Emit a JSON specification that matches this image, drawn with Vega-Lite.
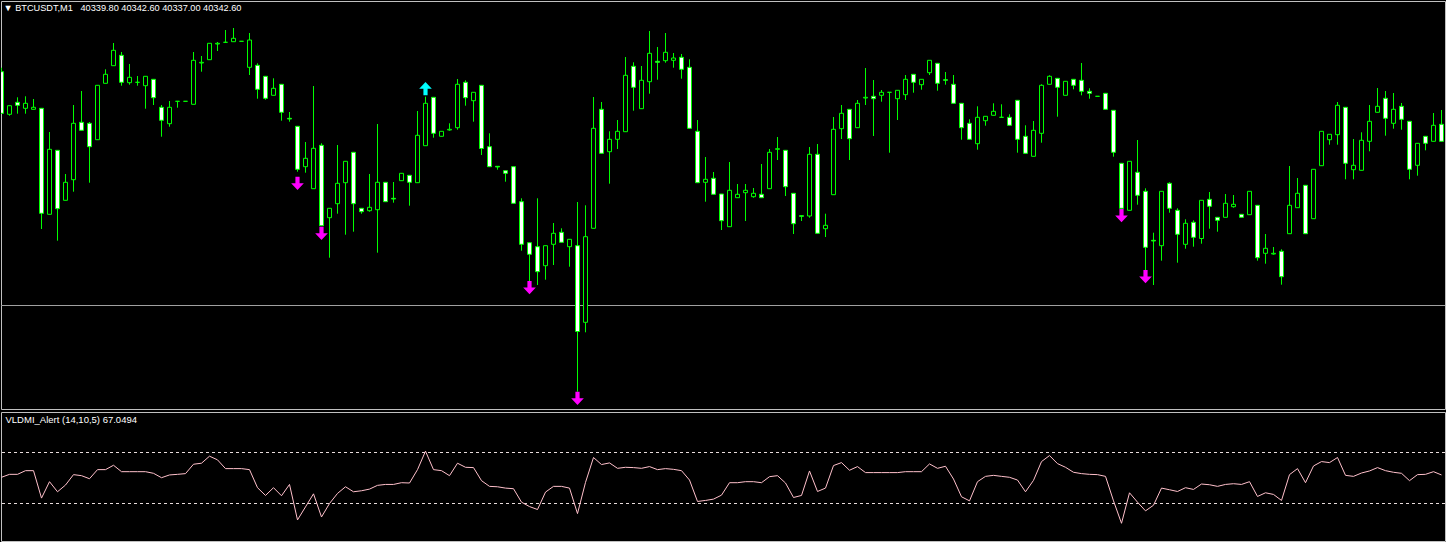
{
"$schema": "https://vega.github.io/schema/vega-lite/v6.json",
"background": "black",
"padding": 0,
"spacing": 3,
"bounds": "flush",
"config": {"view": {"stroke": "#c0c0c0", "strokeWidth": 1}, "title": {"font": "Liberation Sans", "fontSize": 9.5, "fontWeight": "normal", "color": "white", "anchor": "start", "offset": -12, "dx": 3}},
"datasets": {
"candles": [
{"i":0,"o":40408.3,"h":40412.3,"l":40366.3,"c":40366.7},
{"i":1,"o":40365.7,"h":40374.3,"l":40364.3,"c":40374.3},
{"i":2,"o":40377.7,"h":40382.7,"l":40366.3,"c":40374.7},
{"i":3,"o":40371.7,"h":40383.7,"l":40366.3,"c":40376.7},
{"i":4,"o":40370.7,"h":40381,"l":40370.7,"c":40372.7},
{"i":5,"o":40371.7,"h":40371.7,"l":40251,"c":40266.7},
{"i":6,"o":40265.7,"h":40348,"l":40265.7,"c":40330.7},
{"i":7,"o":40329.7,"h":40329.7,"l":40239.3,"c":40271.3},
{"i":8,"o":40279.7,"h":40306,"l":40279.7,"c":40297.7},
{"i":9,"o":40300.3,"h":40375,"l":40288.3,"c":40356.7},
{"i":10,"o":40357.7,"h":40389,"l":40349.7,"c":40349.7},
{"i":11,"o":40356.7,"h":40358,"l":40297.3,"c":40333.3},
{"i":12,"o":40340.3,"h":40394.7,"l":40340.3,"c":40394.7},
{"i":13,"o":40396.7,"h":40410.7,"l":40396.7,"c":40405.7},
{"i":14,"o":40414.3,"h":40437,"l":40414.3,"c":40429.7},
{"i":15,"o":40424.7,"h":40428,"l":40394.3,"c":40397.7},
{"i":16,"o":40397.3,"h":40416,"l":40395.3,"c":40402.7},
{"i":17,"o":40397.7,"h":40404,"l":40394.3,"c":40397.7},
{"i":18,"o":40394.3,"h":40403.7,"l":40371.3,"c":40403.7},
{"i":19,"o":40400.7,"h":40400.7,"l":40375,"c":40382.3},
{"i":20,"o":40372.7,"h":40375,"l":40343.3,"c":40359.7},
{"i":21,"o":40356.3,"h":40379,"l":40353.3,"c":40372.7},
{"i":22,"o":40378.7,"h":40378.7,"l":40372.3,"c":40378.7},
{"i":23,"o":40378.7,"h":40378.7,"l":40378.7,"c":40378.7},
{"i":24,"o":40375.7,"h":40428,"l":40375.7,"c":40419.7},
{"i":25,"o":40417,"h":40424,"l":40408.3,"c":40417.7},
{"i":26,"o":40420.3,"h":40436.7,"l":40420.3,"c":40436.7},
{"i":27,"o":40436,"h":40438,"l":40429,"c":40436.7},
{"i":28,"o":40437.7,"h":40450,"l":40437.7,"c":40437.7},
{"i":29,"o":40438.3,"h":40452,"l":40438.3,"c":40441.7},
{"i":30,"o":40438.7,"h":40438.7,"l":40438.7,"c":40438.7},
{"i":31,"o":40412.7,"h":40447,"l":40405,"c":40440},
{"i":32,"o":40414.7,"h":40416.7,"l":40381.3,"c":40390.7},
{"i":33,"o":40403.7,"h":40403.7,"l":40380.3,"c":40381.7},
{"i":34,"o":40384.7,"h":40401.7,"l":40384.7,"c":40391.7},
{"i":35,"o":40395.7,"h":40395.7,"l":40359.3,"c":40367.7},
{"i":36,"o":40361.7,"h":40368,"l":40358.3,"c":40361},
{"i":37,"o":40353.7,"h":40353.7,"l":40308.3,"c":40310.7},
{"i":38,"o":40313.3,"h":40338,"l":40307.3,"c":40321.7},
{"i":39,"o":40291.3,"h":40394,"l":40291.3,"c":40331.7},
{"i":40,"o":40334.7,"h":40336.7,"l":40254.3,"c":40254.3},
{"i":41,"o":40262.3,"h":40271.7,"l":40222.3,"c":40271.7},
{"i":42,"o":40276.3,"h":40335,"l":40266.3,"c":40296.7},
{"i":43,"o":40297.3,"h":40318.7,"l":40245.3,"c":40318.7},
{"i":44,"o":40327.7,"h":40327.7,"l":40248.3,"c":40276.3},
{"i":45,"o":40271.7,"h":40271.7,"l":40266.3,"c":40268.3},
{"i":46,"o":40269.3,"h":40306,"l":40268.3,"c":40272.7},
{"i":47,"o":40270.3,"h":40356,"l":40227.3,"c":40297.7},
{"i":48,"o":40297.7,"h":40297.7,"l":40278.3,"c":40278.3},
{"i":49,"o":40281.7,"h":40298,"l":40277.3,"c":40281},
{"i":50,"o":40299.3,"h":40306.7,"l":40299.3,"c":40306.7},
{"i":51,"o":40304.7,"h":40304.7,"l":40274.3,"c":40297.7},
{"i":52,"o":40297.3,"h":40369,"l":40297.3,"c":40344.7},
{"i":53,"o":40334.3,"h":40383.3,"l":40334.3,"c":40376.7},
{"i":54,"o":40382.7,"h":40382.7,"l":40342.3,"c":40346.7},
{"i":55,"o":40343.7,"h":40348.7,"l":40343.7,"c":40348.7},
{"i":56,"o":40350,"h":40356.7,"l":40349.3,"c":40350.7},
{"i":57,"o":40352.3,"h":40401,"l":40350.3,"c":40395.7},
{"i":58,"o":40397.7,"h":40399.7,"l":40374.3,"c":40382.3},
{"i":59,"o":40379.3,"h":40387.7,"l":40358.3,"c":40387.7},
{"i":60,"o":40394.7,"h":40394.7,"l":40325,"c":40331.5},
{"i":61,"o":40333.3,"h":40346.7,"l":40313.3,"c":40313.3},
{"i":62,"o":40313.7,"h":40313.7,"l":40310.3,"c":40313},
{"i":63,"o":40309.3,"h":40309.3,"l":40298.3,"c":40306.7},
{"i":64,"o":40313.3,"h":40313.3,"l":40276.7,"c":40276.7},
{"i":65,"o":40278.3,"h":40281.7,"l":40229.3,"c":40235.7},
{"i":66,"o":40237.3,"h":40237.3,"l":40198.3,"c":40225.7},
{"i":67,"o":40233.3,"h":40281.7,"l":40195,"c":40208.3},
{"i":68,"o":40214.3,"h":40234.3,"l":40200.3,"c":40234.3},
{"i":69,"o":40235.7,"h":40257,"l":40215,"c":40246.7},
{"i":70,"o":40247.7,"h":40251.7,"l":40237.7,"c":40237.7},
{"i":71,"o":40233.3,"h":40240.7,"l":40213.3,"c":40240.7},
{"i":72,"o":40234.3,"h":40278,"l":40088.3,"c":40148.5},
{"i":73,"o":40157.7,"h":40274.7,"l":40147.7,"c":40243.3},
{"i":74,"o":40251.7,"h":40383,"l":40251.7,"c":40351.7},
{"i":75,"o":40370.7,"h":40378,"l":40326.7,"c":40326.7},
{"i":76,"o":40328.3,"h":40348.7,"l":40296.3,"c":40340.7},
{"i":77,"o":40340.7,"h":40360,"l":40331,"c":40348.7},
{"i":78,"o":40348.3,"h":40423,"l":40348.3,"c":40404.7},
{"i":79,"o":40413.7,"h":40417.7,"l":40369.3,"c":40392.7},
{"i":80,"o":40371.3,"h":40414,"l":40371.3,"c":40399.7},
{"i":81,"o":40398.3,"h":40449,"l":40386.3,"c":40426.7},
{"i":82,"o":40418.7,"h":40433,"l":40400.3,"c":40417.7},
{"i":83,"o":40419.3,"h":40447,"l":40417.3,"c":40427.7},
{"i":84,"o":40419.7,"h":40427,"l":40412.3,"c":40422},
{"i":85,"o":40422.7,"h":40426,"l":40401.3,"c":40410.7},
{"i":86,"o":40412.7,"h":40420.7,"l":40351.7,"c":40351.7},
{"i":87,"o":40348.7,"h":40360,"l":40297.3,"c":40297.3},
{"i":88,"o":40297.7,"h":40323,"l":40278.3,"c":40300.7},
{"i":89,"o":40301.7,"h":40308,"l":40285.7,"c":40285.7},
{"i":90,"o":40286,"h":40286,"l":40250,"c":40259.3},
{"i":91,"o":40253.3,"h":40318,"l":40253.3,"c":40289.7},
{"i":92,"o":40282.3,"h":40296,"l":40282.3,"c":40285.7},
{"i":93,"o":40287.3,"h":40296,"l":40259,"c":40289.7},
{"i":94,"o":40283.3,"h":40292,"l":40282.3,"c":40286.7},
{"i":95,"o":40285.7,"h":40316,"l":40282.3,"c":40282.3},
{"i":96,"o":40291.3,"h":40331,"l":40291.3,"c":40327.7},
{"i":97,"o":40330.7,"h":40343,"l":40320,"c":40331.3},
{"i":98,"o":40329.7,"h":40329.7,"l":40284,"c":40293.3},
{"i":99,"o":40286.7,"h":40286.7,"l":40246,"c":40256.3},
{"i":100,"o":40264.3,"h":40264.3,"l":40259,"c":40263.7},
{"i":101,"o":40264,"h":40333,"l":40262.3,"c":40325.7},
{"i":102,"o":40325.7,"h":40336,"l":40246.7,"c":40246.7},
{"i":103,"o":40251.3,"h":40266.3,"l":40243,"c":40254.7},
{"i":104,"o":40285.3,"h":40363,"l":40285.3,"c":40350.7},
{"i":105,"o":40351.3,"h":40375,"l":40341,"c":40366.7},
{"i":106,"o":40370.7,"h":40370.7,"l":40320,"c":40341.3},
{"i":107,"o":40352.3,"h":40380,"l":40352.3,"c":40376.7},
{"i":108,"o":40382,"h":40412,"l":40375,"c":40382.7},
{"i":109,"o":40383.7,"h":40400,"l":40344,"c":40381.3},
{"i":110,"o":40384.7,"h":40390,"l":40378.3,"c":40387.7},
{"i":111,"o":40387.7,"h":40387.7,"l":40327.3,"c":40387.7},
{"i":112,"o":40381.3,"h":40389.7,"l":40360,"c":40389.7},
{"i":113,"o":40385.3,"h":40405,"l":40380,"c":40400.7},
{"i":114,"o":40405.7,"h":40405.7,"l":40387.3,"c":40397.7},
{"i":115,"o":40395.3,"h":40400.7,"l":40390.3,"c":40400.7},
{"i":116,"o":40407.3,"h":40419.7,"l":40405,"c":40419.7},
{"i":117,"o":40416.7,"h":40416.7,"l":40389.3,"c":40396.7},
{"i":118,"o":40400.3,"h":40408,"l":40395.3,"c":40399.7},
{"i":119,"o":40395.7,"h":40405,"l":40376.7,"c":40376.7},
{"i":120,"o":40376.7,"h":40376.7,"l":40340.3,"c":40352.3},
{"i":121,"o":40356.7,"h":40360.7,"l":40340.7,"c":40340.7},
{"i":122,"o":40336.3,"h":40373.7,"l":40330.3,"c":40362.7},
{"i":123,"o":40359.3,"h":40363.7,"l":40354.3,"c":40363.7},
{"i":124,"o":40364.7,"h":40376.7,"l":40364.7,"c":40368.7},
{"i":125,"o":40362.7,"h":40375.7,"l":40362.7,"c":40362.7},
{"i":126,"o":40362.7,"h":40365.7,"l":40354.7,"c":40354.7},
{"i":127,"o":40379.7,"h":40379.7,"l":40327.3,"c":40340.7},
{"i":128,"o":40343.7,"h":40354.7,"l":40326.7,"c":40326.7},
{"i":129,"o":40323.7,"h":40359,"l":40323.7,"c":40349.7},
{"i":130,"o":40346.7,"h":40395.7,"l":40337.3,"c":40394.7},
{"i":131,"o":40395.7,"h":40404.7,"l":40395.7,"c":40403.7},
{"i":132,"o":40401.7,"h":40401.7,"l":40363.3,"c":40392.7},
{"i":133,"o":40384.7,"h":40398.7,"l":40384.7,"c":40398.7},
{"i":134,"o":40400.7,"h":40400.7,"l":40390.7,"c":40394.7},
{"i":135,"o":40399.7,"h":40417,"l":40384.7,"c":40388.7},
{"i":136,"o":40388.7,"h":40391.7,"l":40381.3,"c":40386.7},
{"i":137,"o":40383.7,"h":40383.7,"l":40383.7,"c":40383.7},
{"i":138,"o":40386.7,"h":40386.7,"l":40370.7,"c":40370.7},
{"i":139,"o":40369.7,"h":40369.7,"l":40323.3,"c":40327.7},
{"i":140,"o":40316.7,"h":40316.7,"l":40271.7,"c":40271.7},
{"i":141,"o":40269.7,"h":40318.7,"l":40269.7,"c":40318.7},
{"i":142,"o":40307.7,"h":40340,"l":40275.3,"c":40284.7},
{"i":143,"o":40288.7,"h":40291.7,"l":40210,"c":40232.7},
{"i":144,"o":40239.7,"h":40247.3,"l":40195,"c":40239},
{"i":145,"o":40234.3,"h":40288.7,"l":40219.3,"c":40288.7},
{"i":146,"o":40296.7,"h":40297.7,"l":40267.3,"c":40271.7},
{"i":147,"o":40269.7,"h":40271.7,"l":40217.3,"c":40245.7},
{"i":148,"o":40235.7,"h":40260.7,"l":40231.3,"c":40256.7},
{"i":149,"o":40257.7,"h":40259.7,"l":40233.3,"c":40242.7},
{"i":150,"o":40241.5,"h":40279.7,"l":40236.3,"c":40279.7},
{"i":151,"o":40280.7,"h":40288,"l":40251.3,"c":40273.7},
{"i":152,"o":40262.7,"h":40262.7,"l":40248.3,"c":40259.7},
{"i":153,"o":40262.7,"h":40286,"l":40262.7,"c":40276.7},
{"i":154,"o":40273.3,"h":40285,"l":40272.3,"c":40275.7},
{"i":155,"o":40265.7,"h":40265.7,"l":40262.7,"c":40262.7},
{"i":156,"o":40265.3,"h":40288.7,"l":40265.3,"c":40288.7},
{"i":157,"o":40274.7,"h":40274.7,"l":40219.3,"c":40222.3},
{"i":158,"o":40226.7,"h":40246,"l":40216.3,"c":40231.7},
{"i":159,"o":40226,"h":40233,"l":40225.3,"c":40226.7},
{"i":160,"o":40228.7,"h":40230.7,"l":40195.3,"c":40203.3},
{"i":161,"o":40246.3,"h":40314,"l":40246.3,"c":40274.7},
{"i":162,"o":40272.3,"h":40302,"l":40272.3,"c":40286.7},
{"i":163,"o":40294.7,"h":40294.7,"l":40246.3,"c":40246.3},
{"i":164,"o":40261.3,"h":40310.7,"l":40261.3,"c":40310.7},
{"i":165,"o":40314.3,"h":40348.7,"l":40314.3,"c":40348.7},
{"i":166,"o":40340.3,"h":40345.7,"l":40335.3,"c":40345.7},
{"i":167,"o":40345.3,"h":40378,"l":40335.3,"c":40374.7},
{"i":168,"o":40372.7,"h":40372.7,"l":40300.7,"c":40316.7},
{"i":169,"o":40310.3,"h":40341,"l":40300.7,"c":40314.7},
{"i":170,"o":40309.7,"h":40347.7,"l":40309.7,"c":40339.7},
{"i":171,"o":40338.7,"h":40375,"l":40328.7,"c":40358.7},
{"i":172,"o":40367.7,"h":40392,"l":40367.7,"c":40373.7},
{"i":173,"o":40381.7,"h":40389,"l":40344.3,"c":40361.7},
{"i":174,"o":40356.7,"h":40387,"l":40351.3,"c":40370.7},
{"i":175,"o":40373.7,"h":40377,"l":40350.3,"c":40360.7},
{"i":176,"o":40358.7,"h":40358.7,"l":40300.7,"c":40310.7},
{"i":177,"o":40314.7,"h":40336.7,"l":40304.3,"c":40336.7},
{"i":178,"o":40343.7,"h":40343.7,"l":40329.7,"c":40336.7},
{"i":179,"o":40338.7,"h":40367,"l":40338.7,"c":40354.7},
{"i":180,"o":40355.7,"h":40370,"l":40338.7,"c":40338.7}
],
"arrows": [
{"i":37,"p":40296.1,"dir":"down"},
{"i":40,"p":40246.1,"dir":"down"},
{"i":53,"p":40392,"dir":"up"},
{"i":66,"p":40191.8,"dir":"down"},
{"i":72,"p":40081.1,"dir":"down"},
{"i":140,"p":40263.8,"dir":"down"},
{"i":143,"p":40202.8,"dir":"down"}
],
"hline": [{"p": 40174.5}],
"levels": [{"v": 75}, {"v": 25}],
"ind": [
{"i":0,"v":50.7},{"i":1,"v":53.6},{"i":2,"v":53.6},{"i":3,"v":57.2},{"i":4,"v":57.2},{"i":5,"v":30.3},{"i":6,"v":46.4},{"i":7,"v":36.5},{"i":8,"v":43.1},{"i":9,"v":53.3},
{"i":10,"v":52.3},{"i":11,"v":49.3},{"i":12,"v":58.2},{"i":13,"v":58.2},{"i":14,"v":62.5},{"i":15,"v":56.2},{"i":16,"v":56.2},{"i":17,"v":56.2},{"i":18,"v":56.2},{"i":19,"v":54.6},
{"i":20,"v":50.3},{"i":21,"v":53.0},{"i":22,"v":53.6},{"i":23,"v":54.3},{"i":24,"v":63.5},{"i":25,"v":64.5},{"i":26,"v":71.4},{"i":27,"v":67.8},{"i":28,"v":59.2},{"i":29,"v":59.2},
{"i":30,"v":59.2},{"i":31,"v":58.2},{"i":32,"v":40.5},{"i":33,"v":32.9},{"i":34,"v":40.5},{"i":35,"v":32.6},{"i":36,"v":43.7},{"i":37,"v":8.9},{"i":38,"v":21.7},{"i":39,"v":34.5},
{"i":40,"v":11.8},{"i":41,"v":25.0},{"i":42,"v":34.9},{"i":43,"v":41.4},{"i":44,"v":36.5},{"i":45,"v":37.5},{"i":46,"v":39.1},{"i":47,"v":42.8},{"i":48,"v":43.7},{"i":49,"v":43.7},
{"i":50,"v":45.4},{"i":51,"v":45.1},{"i":52,"v":58.2},{"i":53,"v":76.3},{"i":54,"v":58.2},{"i":55,"v":57.2},{"i":56,"v":52.3},{"i":57,"v":64.5},{"i":58,"v":60.5},{"i":59,"v":60.2},
{"i":60,"v":47.4},{"i":61,"v":41.8},{"i":62,"v":41.4},{"i":63,"v":40.1},{"i":64,"v":39.5},{"i":65,"v":26.3},{"i":66,"v":22.0},{"i":67,"v":19.1},{"i":68,"v":36.2},{"i":69,"v":41.8},
{"i":70,"v":41.8},{"i":71,"v":40.1},{"i":72,"v":15.1},{"i":73,"v":45.7},{"i":74,"v":70.1},{"i":75,"v":63.2},{"i":76,"v":64.8},{"i":77,"v":59.5},{"i":78,"v":60.5},{"i":79,"v":60.2},
{"i":80,"v":59.5},{"i":81,"v":61.2},{"i":82,"v":58.2},{"i":83,"v":59.2},{"i":84,"v":58.5},{"i":85,"v":57.2},{"i":86,"v":48.0},{"i":87,"v":27.0},{"i":88,"v":28.0},{"i":89,"v":29.3},
{"i":90,"v":33.2},{"i":91,"v":45.4},{"i":92,"v":45.4},{"i":93,"v":46.4},{"i":94,"v":46.4},{"i":95,"v":45.4},{"i":96,"v":51.3},{"i":97,"v":52.3},{"i":98,"v":45.1},{"i":99,"v":30.9},
{"i":100,"v":32.9},{"i":101,"v":56.9},{"i":102,"v":36.8},{"i":103,"v":40.1},{"i":104,"v":62.2},{"i":105,"v":65.1},{"i":106,"v":57.6},{"i":107,"v":61.2},{"i":108,"v":55.3},{"i":109,"v":55.3},
{"i":110,"v":55.3},{"i":111,"v":55.3},{"i":112,"v":55.3},{"i":113,"v":56.2},{"i":114,"v":56.2},{"i":115,"v":56.2},{"i":116,"v":63.8},{"i":117,"v":59.5},{"i":118,"v":61.5},{"i":119,"v":49.0},
{"i":120,"v":31.6},{"i":121,"v":27.6},{"i":122,"v":46.4},{"i":123,"v":51.6},{"i":124,"v":52.6},{"i":125,"v":51.6},{"i":126,"v":50.7},{"i":127,"v":48.0},{"i":128,"v":36.5},{"i":129,"v":47.7},
{"i":130,"v":66.1},{"i":131,"v":72.0},{"i":132,"v":64.1},{"i":133,"v":60.5},{"i":134,"v":55.6},{"i":135,"v":54.3},{"i":136,"v":53.6},{"i":137,"v":53.3},{"i":138,"v":51.6},{"i":139,"v":27.6},
{"i":140,"v":5.6},{"i":141,"v":35.5},{"i":142,"v":26.3},{"i":143,"v":17.8},{"i":144,"v":23.3},{"i":145,"v":40.1},{"i":146,"v":38.5},{"i":147,"v":36.8},{"i":148,"v":40.5},{"i":149,"v":38.8},
{"i":150,"v":44.1},{"i":151,"v":43.4},{"i":152,"v":41.8},{"i":153,"v":43.7},{"i":154,"v":44.4},{"i":155,"v":43.7},{"i":156,"v":46.4},{"i":157,"v":31.9},{"i":158,"v":35.5},{"i":159,"v":33.9},
{"i":160,"v":28.0},{"i":161,"v":53.3},{"i":162,"v":59.2},{"i":163,"v":45.4},{"i":164,"v":61.8},{"i":165,"v":66.1},{"i":166,"v":65.1},{"i":167,"v":70.1},{"i":168,"v":52.6},{"i":169,"v":51.6},
{"i":170,"v":54.9},{"i":171,"v":56.9},{"i":172,"v":60.2},{"i":173,"v":57.2},{"i":174,"v":55.6},{"i":175,"v":54.6},{"i":176,"v":47.4},{"i":177,"v":53.3},{"i":178,"v":53.6},{"i":179,"v":56.2},
{"i":180,"v":53.0}
]
},
"vconcat": [
{
"width": 1444,
"height": 408,
"title": {"text": "▼ BTCUSDT,M1\u00a0\u00a0 40339.80 40342.60 40337.00 40342.60", "fontSize": 9.2},
"layer": [
{
"data": {"name": "hline"},
"mark": {"type": "rule", "color": "#a0a0a0", "strokeWidth": 1},
"encoding": {"y": {"field": "p", "type": "quantitative", "scale": {"domain": [40071, 40479], "zero": false, "nice": false}, "axis": null}}
},
{
"data": {"name": "candles"},
"mark": {"type": "rule", "color": "#00ff00", "strokeWidth": 1, "clip": true},
"encoding": {
"x": {"field": "i", "type": "quantitative", "scale": {"domain": [-0.0625, 180.4375], "nice": false, "zero": false, "padding": 0}, "axis": null},
"y": {"field": "l", "type": "quantitative", "scale": {"domain": [40071, 40479], "zero": false, "nice": false}, "axis": null},
"y2": {"field": "h"}
}
},
{
"data": {"name": "candles"},
"mark": {"type": "bar", "size": 4, "stroke": "#00ff00", "strokeWidth": 1, "clip": true},
"encoding": {
"x": {"field": "i", "type": "quantitative", "scale": {"domain": [-0.0625, 180.4375], "nice": false, "zero": false, "padding": 0}, "axis": null},
"y": {"field": "o", "type": "quantitative", "scale": {"domain": [40071, 40479], "zero": false, "nice": false}, "axis": null},
"y2": {"field": "c"},
"fill": {"condition": {"test": "datum.c >= datum.o", "value": "#000000"}, "value": "#ffffff"}
}
},
{
"data": {"name": "arrows"},
"mark": {"type": "point", "filled": true, "size": 160, "opacity": 1, "clip": true},
"encoding": {
"x": {"field": "i", "type": "quantitative", "scale": {"domain": [-0.0625, 180.4375], "nice": false, "zero": false, "padding": 0}, "axis": null},
"y": {"field": "p", "type": "quantitative", "scale": {"domain": [40071, 40479], "zero": false, "nice": false}, "axis": null},
"shape": {"field": "dir", "type": "nominal", "scale": {"domain": ["down", "up"], "range": ["M-0.33,-1.15L0.33,-1.15L0.33,-0.1L1,-0.1L0,0.95L-1,-0.1L-0.33,-0.1Z", "M-0.33,1.15L0.33,1.15L0.33,0.1L1,0.1L0,-0.95L-1,0.1L-0.33,0.1Z"]}, "legend": null},
"color": {"field": "dir", "type": "nominal", "scale": {"domain": ["down", "up"], "range": ["#ff00ff", "#00ffff"]}, "legend": null}
}
}
]
},
{
"width": 1444,
"height": 129,
"title": {"text": "VLDMI_Alert (14,10,5) 67.0494", "dx": 5},
"layer": [
{
"data": {"name": "levels"},
"mark": {"type": "rule", "color": "#e8dcdc", "strokeWidth": 1, "strokeDash": [3, 3]},
"encoding": {"y": {"field": "v", "type": "quantitative", "scale": {"domain": [-11.76, 114.71], "zero": false, "nice": false}, "axis": null}}
},
{
"data": {"name": "ind"},
"mark": {"type": "line", "color": "#ffc0cb", "strokeWidth": 1, "clip": true},
"encoding": {
"x": {"field": "i", "type": "quantitative", "scale": {"domain": [-0.0625, 180.4375], "nice": false, "zero": false, "padding": 0}, "axis": null},
"y": {"field": "v", "type": "quantitative", "scale": {"domain": [-11.76, 114.71], "zero": false, "nice": false}, "axis": null}
}
}
]
}
]
}
